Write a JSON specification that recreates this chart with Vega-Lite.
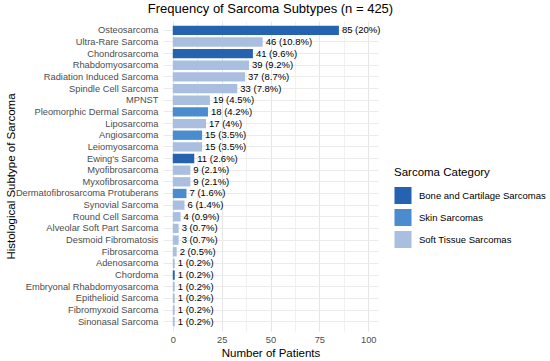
{
  "$schema": "https://vega.github.io/schema/vega-lite/v6.json",
  "width": 215,
  "height": 310,
  "autosize": {"type": "none"},
  "padding": {"left": 163, "top": 21, "right": 172, "bottom": 30},
  "background": "white",
  "title": {"text": "Frequency of Sarcoma Subtypes (n = 425)", "font": "Liberation Sans", "fontSize": 13, "fontWeight": "normal", "color": "black", "anchor": "middle", "offset": 5},
  "data": {"values": [
    {"subtype": "Osteosarcoma", "patients": 85, "label": "85 (20%)", "category": "Bone and Cartilage Sarcomas"},
    {"subtype": "Ultra-Rare Sarcoma", "patients": 46, "label": "46 (10.8%)", "category": "Soft Tissue Sarcomas"},
    {"subtype": "Chondrosarcoma", "patients": 41, "label": "41 (9.6%)", "category": "Bone and Cartilage Sarcomas"},
    {"subtype": "Rhabdomyosarcoma", "patients": 39, "label": "39 (9.2%)", "category": "Soft Tissue Sarcomas"},
    {"subtype": "Radiation Induced Sarcoma", "patients": 37, "label": "37 (8.7%)", "category": "Soft Tissue Sarcomas"},
    {"subtype": "Spindle Cell Sarcoma", "patients": 33, "label": "33 (7.8%)", "category": "Soft Tissue Sarcomas"},
    {"subtype": "MPNST", "patients": 19, "label": "19 (4.5%)", "category": "Soft Tissue Sarcomas"},
    {"subtype": "Pleomorphic Dermal Sarcoma", "patients": 18, "label": "18 (4.2%)", "category": "Skin Sarcomas"},
    {"subtype": "Liposarcoma", "patients": 17, "label": "17 (4%)", "category": "Soft Tissue Sarcomas"},
    {"subtype": "Angiosarcoma", "patients": 15, "label": "15 (3.5%)", "category": "Skin Sarcomas"},
    {"subtype": "Leiomyosarcoma", "patients": 15, "label": "15 (3.5%)", "category": "Soft Tissue Sarcomas"},
    {"subtype": "Ewing's Sarcoma", "patients": 11, "label": "11 (2.6%)", "category": "Bone and Cartilage Sarcomas"},
    {"subtype": "Myofibrosarcoma", "patients": 9, "label": "9 (2.1%)", "category": "Soft Tissue Sarcomas"},
    {"subtype": "Myxofibrosarcoma", "patients": 9, "label": "9 (2.1%)", "category": "Soft Tissue Sarcomas"},
    {"subtype": "Dermatofibrosarcoma Protuberans", "patients": 7, "label": "7 (1.6%)", "category": "Skin Sarcomas"},
    {"subtype": "Synovial Sarcoma", "patients": 6, "label": "6 (1.4%)", "category": "Soft Tissue Sarcomas"},
    {"subtype": "Round Cell Sarcoma", "patients": 4, "label": "4 (0.9%)", "category": "Soft Tissue Sarcomas"},
    {"subtype": "Alveolar Soft Part Sarcoma", "patients": 3, "label": "3 (0.7%)", "category": "Soft Tissue Sarcomas"},
    {"subtype": "Desmoid Fibromatosis", "patients": 3, "label": "3 (0.7%)", "category": "Soft Tissue Sarcomas"},
    {"subtype": "Fibrosarcoma", "patients": 2, "label": "2 (0.5%)", "category": "Soft Tissue Sarcomas"},
    {"subtype": "Adenosarcoma", "patients": 1, "label": "1 (0.2%)", "category": "Soft Tissue Sarcomas"},
    {"subtype": "Chordoma", "patients": 1, "label": "1 (0.2%)", "category": "Bone and Cartilage Sarcomas"},
    {"subtype": "Embryonal Rhabdomyosarcoma", "patients": 1, "label": "1 (0.2%)", "category": "Soft Tissue Sarcomas"},
    {"subtype": "Epithelioid Sarcoma", "patients": 1, "label": "1 (0.2%)", "category": "Soft Tissue Sarcomas"},
    {"subtype": "Fibromyxoid Sarcoma", "patients": 1, "label": "1 (0.2%)", "category": "Soft Tissue Sarcomas"},
    {"subtype": "Sinonasal Sarcoma", "patients": 1, "label": "1 (0.2%)", "category": "Soft Tissue Sarcomas"}
  ]},
  "encoding": {
    "y": {"field": "subtype", "type": "nominal", "sort": null,
      "scale": {"paddingInner": 0.2, "paddingOuter": 0.4},
      "axis": {"title": "Histological Subtype of Sarcoma", "titleFont": "Liberation Sans", "titleFontSize": 11.5, "titleFontWeight": "normal", "titleColor": "black", "titleX": -152, "titleY": 155, "titleAngle": -90, "titleBaseline": "middle", "titleAlign": "center",
        "labelFont": "Liberation Sans", "labelFontSize": 9.3, "labelColor": "#4d4d4d", "labelPadding": 5, "ticks": false, "domain": false, "grid": true, "gridColor": "#ebebeb", "gridWidth": 1}
    },
    "x": {"field": "patients", "type": "quantitative",
      "scale": {"domain": [-5, 105], "nice": false, "zero": false},
      "axis": {"title": "Number of Patients", "titleFont": "Liberation Sans", "titleFontSize": 11.5, "titleFontWeight": "normal", "titleColor": "black", "titlePadding": 3,
        "values": [0, 12.5, 25, 37.5, 50, 62.5, 75, 87.5, 100],
        "labelExpr": "datum.value % 25 == 0 ? datum.label : ''",
        "labelFont": "Liberation Sans", "labelFontSize": 9.3, "labelColor": "#4d4d4d", "labelPadding": 4, "ticks": false, "domain": false, "grid": true,
        "gridColor": {"condition": {"test": "datum.value % 25 == 0", "value": "#e6e6e6"}, "value": "#f1f1f1"},
        "gridWidth": 1}
    }
  },
  "layer": [
    {"mark": {"type": "bar"},
      "encoding": {
        "x": {"field": "patients", "type": "quantitative"},
        "x2": {"datum": 0},
        "color": {"field": "category", "type": "nominal",
          "scale": {"domain": ["Bone and Cartilage Sarcomas", "Skin Sarcomas", "Soft Tissue Sarcomas"], "range": ["#2563b0", "#4a8ccd", "#aabfe0"]},
          "legend": {"title": "Sarcoma Category", "orient": "none", "legendX": 231, "legendY": 146, "titleFont": "Liberation Sans", "titleFontSize": 11.5, "titleFontWeight": "normal", "titleColor": "black", "titlePadding": 8,
            "labelFont": "Liberation Sans", "labelFontSize": 9.5, "labelColor": "black", "symbolType": "square", "symbolSize": 290, "symbolStrokeWidth": 0, "symbolOpacity": 1, "rowPadding": 4, "labelOffset": 7}
        }
      }
    },
    {"mark": {"type": "text", "align": "left", "baseline": "middle", "dx": 3, "font": "Liberation Sans", "fontSize": 9.5, "color": "black"},
      "encoding": {"text": {"field": "label"}}
    }
  ],
  "config": {"view": {"stroke": null}}
}
